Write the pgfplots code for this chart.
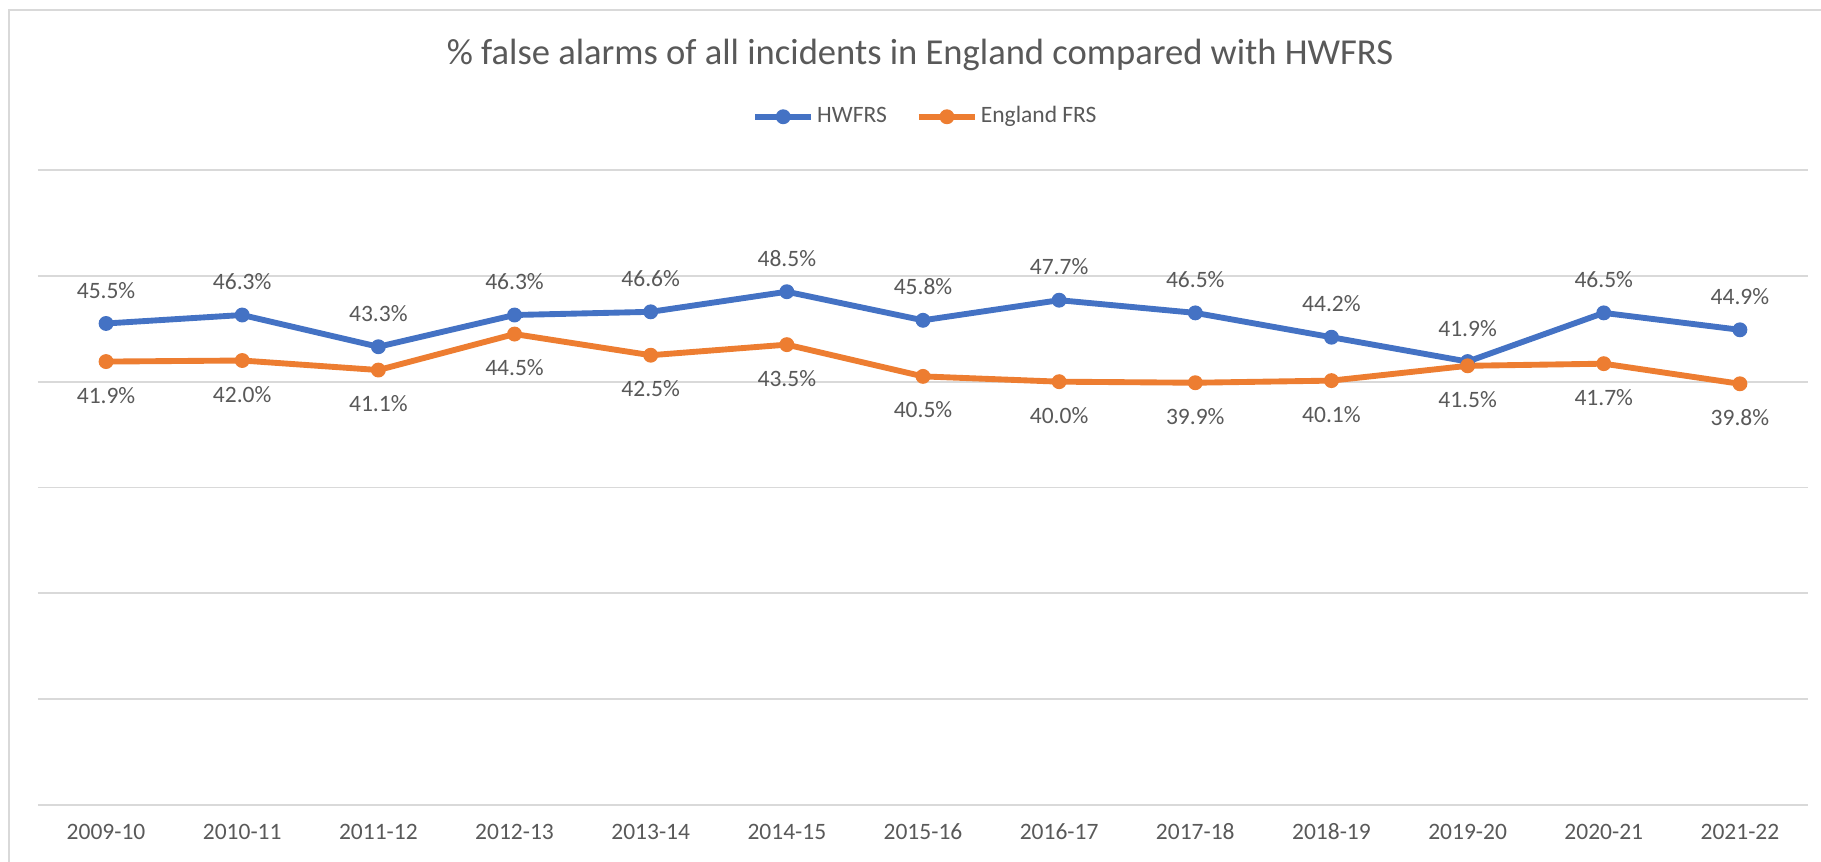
\documentclass[border=0pt]{standalone}
\usepackage{fontspec}
\setmainfont{Carlito}
\usepackage{pgfplots}
\pgfplotsset{compat=1.18}

\definecolor{hwblue}{HTML}{4472C4}
\definecolor{engorange}{HTML}{ED7D31}
\definecolor{txtgray}{HTML}{595959}
\definecolor{gridgray}{HTML}{D9D9D9}

\begin{document}
\begin{tikzpicture}
  % canvas and chart-area frame
  \useasboundingbox (0pt,0pt) rectangle (697.44pt,329.76pt);
  \fill[white] (0pt,0pt) rectangle (697.44pt,329.76pt);
  \draw[gridgray, line width=0.75pt] (3.45pt,-1pt) -- (3.45pt,325.9pt) -- (700pt,325.9pt);

  % chart title
  \node[anchor=base, text=txtgray, font=\fontsize{14}{17}\selectfont, inner sep=0pt]
    at (352.4pt,304.9pt) {\% false alarms of all incidents in England compared with HWFRS};

  \begin{axis}[
    at={(14.55pt,21.45pt)}, anchor=south west,
    scale only axis,
    width=677.9pt, height=243.2pt,
    xmin=-0.5, xmax=12.5,
    ymin=0, ymax=60,
    xtick={0,...,12},
    xticklabels={2009-10,2010-11,2011-12,2012-13,2013-14,2014-15,2015-16,2016-17,2017-18,2018-19,2019-20,2020-21,2021-22},
    ytick={0,10,...,60},
    yticklabels={},
    ymajorgrids,
    grid style={gridgray, line width=0.75pt},
    major tick length=0pt,
    axis line style={draw=none},
    xticklabel style={anchor=base, yshift=-13.4pt, text=txtgray,
      font=\fontsize{9}{11}\selectfont},
    clip=false,
    /pgf/number format/assume math mode=true,
    legend columns=2,
    legend style={
      at={(0.5,1)}, anchor=center, yshift=20.4pt, xshift=1.15pt,
      draw=none, fill=none,
      font=\fontsize{9}{11}\selectfont, text=txtgray,
      /tikz/every even column/.append style={column sep=10pt},
      nodes={inner sep=1.2pt},
    },
    legend image code/.code={
      \draw[mark repeat=2,mark phase=2,#1]
        plot coordinates {(0pt,0pt) (10.7pt,0pt) (21.4pt,0pt)};
    },
    every node near coord/.append style={
      text=txtgray, font=\fontsize{9}{11}\selectfont, inner sep=0pt, anchor=base},
    nodes near coords={\pgfmathprintnumber[fixed,fixed zerofill,precision=1]{\pgfplotspointmeta}\%},
    point meta=y,
  ]

  % HWFRS
  \addplot[color=hwblue, line width=2.25pt, mark=*, mark size=2.6pt,
    mark options={fill=hwblue, draw=hwblue, line width=0.5pt},
    every node near coord/.append style={yshift=9.7pt}]
    coordinates {
      (0,45.5) (1,46.3) (2,43.3) (3,46.3) (4,46.6) (5,48.5) (6,45.8)
      (7,47.7) (8,46.5) (9,44.2) (10,41.9) (11,46.5) (12,44.9)
    };
  \addlegendentry{HWFRS}

  % England FRS
  \addplot[color=engorange, line width=2.25pt, mark=*, mark size=2.6pt,
    mark options={fill=engorange, draw=engorange, line width=0.5pt},
    every node near coord/.append style={yshift=-15.9pt}]
    coordinates {
      (0,41.9) (1,42.0) (2,41.1) (3,44.5) (4,42.5) (5,43.5) (6,40.5)
      (7,40.0) (8,39.9) (9,40.1) (10,41.5) (11,41.7) (12,39.8)
    };
  \addlegendentry{England FRS}

  \end{axis}
\end{tikzpicture}
\end{document}
